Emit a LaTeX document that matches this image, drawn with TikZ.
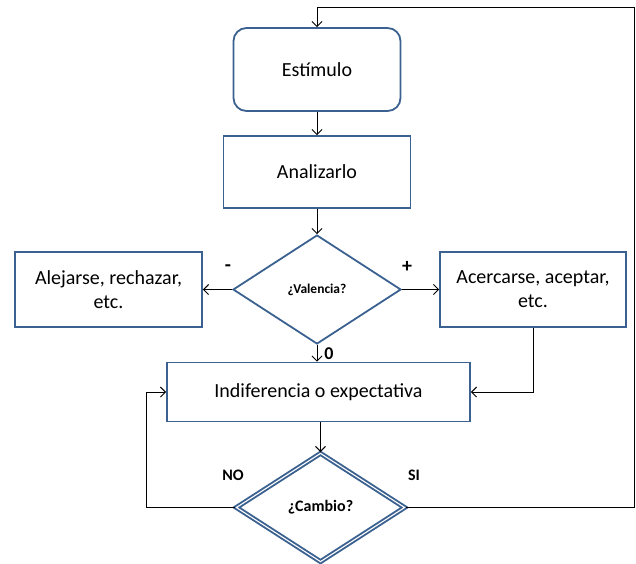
\documentclass[tikz,border=0pt]{standalone}
\usepackage{fontspec}
\setmainfont{Carlito}
\usetikzlibrary{shapes.geometric,arrows.meta}
\definecolor{boxblue}{HTML}{3B6190}
\begin{document}
\begin{tikzpicture}[x=1pt,y=-1pt,
  box/.style={draw=boxblue,line width=1.8pt,fill=white,align=center,inner sep=0pt,font=\fontsize{20}{24}\selectfont},
  dia/.style={diamond,draw=boxblue,line width=1.8pt,fill=white,inner sep=0pt,align=center},
  conn/.style={line width=0.95pt,-{Straight Barb[length=5pt,width=10pt]}},
  lbl/.style={font=\bfseries\fontsize{16}{19}\selectfont}]
\useasboundingbox (0,0) rectangle (636,563);
\node[box,rounded corners=13pt,minimum width=167pt,minimum height=83pt] (est) at (317,69.5) {Estímulo};
\node[box,minimum width=187pt,minimum height=72pt] (ana) at (317,172) {Analizarlo};
\node[dia,minimum width=168pt,minimum height=109pt,font=\bfseries\fontsize{13.5}{16}\selectfont] (val) at (317,289.5) {¿Valencia?};
\node[box,minimum width=187pt,minimum height=75pt] (ale) at (108.5,289.5) {Alejarse, rechazar,\\etc.};
\node[box,minimum width=186pt,minimum height=75pt] (ace) at (533,289.5) {Acercarse, aceptar,\\etc.};
\node[box,minimum width=303pt,minimum height=59pt] (ind) at (318.5,392) {Indiferencia o expectativa};
\node[dia,draw=boxblue,line width=1.9pt,double=white,double distance=1.1pt,minimum width=169pt,minimum height=109pt,font=\bfseries\fontsize{16}{19}\selectfont] (cam) at (320.5,507.5) {¿Cambio?};
\coordinate (r1) at (634,507.5);
\coordinate (r2) at (634,7);
\coordinate (r3) at (317,7);
\coordinate (nl) at (146,507.5);
\coordinate (nu) at (146,392);
\coordinate (ac) at (533,392);
\draw[conn] (est) -- (ana);
\draw[conn] (ana.south) -- (val.north);
\draw[conn] (val.west) -- (ale.east);
\draw[conn] (val.east) -- (ace.west);
\draw[conn] (val.south) -- (val.south |- ind.north);
\draw[conn] (ace.south) -- (ac) -- (ind.east);
\draw[conn] (ind.south -| cam.north) -- (cam.north);
\draw[conn] (cam.west) -- (nl) -- (nu) -- (ind.west);
\draw[conn] (cam.east) -- (r1) -- (r2) -- (r3) -- (est.north);
\node[font=\bfseries\fontsize{20}{24}\selectfont] (minus) at (228,268) {-};
\node[font=\bfseries\fontsize{20}{24}\selectfont] (plus) at (407,267) {+};
\node[font=\bfseries\fontsize{18}{21}\selectfont] (zero) at (329,354) {0};
\node[lbl] (no) at (233,475) {NO};
\node[lbl] (si) at (414,475) {SI};
\end{tikzpicture}
\end{document}
